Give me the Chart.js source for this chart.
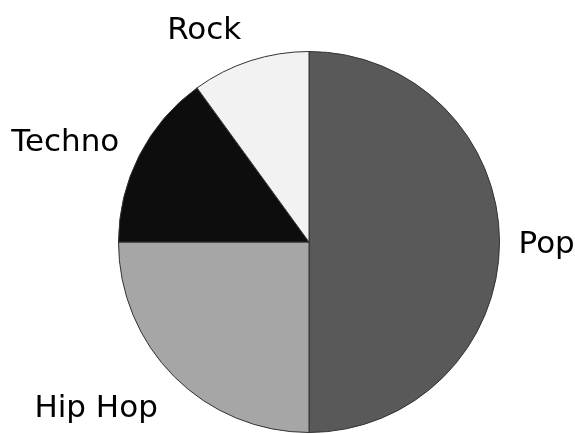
<!DOCTYPE html>
<html>
<head>
<meta charset="utf-8">
<script src="https://cdn.jsdelivr.net/npm/chart.js@4"></script>
<style>
  html, body { margin: 0; padding: 0; background: #fff; }
  #wrap { width: 575px; height: 434px; }
</style>
</head>
<body>
<div id="wrap"><canvas id="pieChart" width="575" height="434"></canvas></div>
<script>
const genres = ['Pop', 'Hip Hop', 'Techno', 'Rock'];
const shares = [50, 25, 15, 10];
const sliceColors = ['#595959', '#a6a6a6', '#0d0d0d', '#f2f2f2'];

// --- Outside labels, placed from each arc's mid angle ---
const outsideLabels = {
    id: 'outsideLabels',
    afterDatasetsDraw(chart) {
        const ctx = chart.ctx;
        const meta = chart.getDatasetMeta(0);
        ctx.save();
        ctx.font = '31px "DejaVu Sans"';
        ctx.fillStyle = '#000';
        ctx.textBaseline = 'middle';
        meta.data.forEach((arc, i) => {
            const mid = (arc.startAngle + arc.endAngle) / 2;
            const r = arc.outerRadius;
            const cos = Math.cos(mid), sin = Math.sin(mid);
            const onRight = cos >= -0.001;
            const x = arc.x + cos * r * 1.1 - (onRight ? 0 : 3);
            const y = arc.y + sin * r * (sin > 0 ? 1.22 : 1.18) + 3;
            ctx.textAlign = onRight ? 'left' : 'right';
            ctx.fillText(genres[i], x, y);
        });
        ctx.restore();
    }
};

new Chart(document.getElementById('pieChart').getContext('2d'), {
    type: 'pie',
    data: {
        labels: genres,
        datasets: [{
            data: shares,
            backgroundColor: sliceColors,
            borderColor: '#333',
            borderWidth: 1
        }]
    },
    options: {
        responsive: false,
        animation: false,
        layout: { padding: { left: 118, right: 75, top: 51, bottom: 1 } },
        plugins: {
            legend: { display: false },
            tooltip: { enabled: false }
        }
    },
    plugins: [outsideLabels]
});
</script>
</body>
</html>
